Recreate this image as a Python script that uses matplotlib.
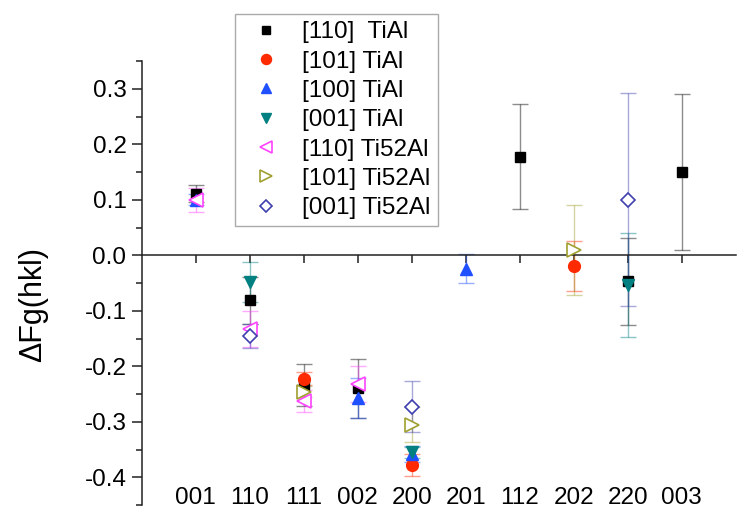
import numpy as np
import matplotlib
matplotlib.use("Agg")
import matplotlib.pyplot as plt
from matplotlib.lines import Line2D

plt.rcParams['font.family'] = ['Liberation Sans', 'DejaVu Sans']

nan = np.nan
categories = ['001', '110', '111', '002', '200', '201', '112', '202', '220', '003']

labels = ['[110]  TiAl', '[101] TiAl', '[100] TiAl', '[001] TiAl',
          '[110] Ti52Al', '[101] Ti52Al', '[001] Ti52Al']

# values / errors per category (nan = no point)
v110_tial = [0.111, -0.081, -0.233, -0.240, nan, nan, 0.178, nan, -0.047, 0.150]
e110_tial = [0.015, 0.042, 0.038, 0.053, nan, nan, 0.094, nan, 0.078, 0.141]
v101_tial = [nan, nan, -0.222, nan, -0.378, nan, nan, -0.019, nan, nan]
e101_tial = [nan, nan, 0.012, nan, 0.020, nan, nan, 0.045, nan, nan]
v100_tial = [0.100, nan, nan, -0.257, -0.358, -0.024, nan, nan, nan, nan]
e100_tial = [0.010, nan, nan, 0.036, 0.015, 0.026, nan, nan, nan, nan]
v001_tial = [nan, -0.048, nan, nan, -0.355, nan, nan, nan, -0.053, nan]
e001_tial = [nan, 0.036, nan, nan, 0.010, nan, nan, nan, 0.094, nan]
v110_ti52 = [0.100, -0.133, -0.262, -0.232, nan, nan, nan, nan, nan, nan]
e110_ti52 = [0.022, 0.032, 0.020, 0.033, nan, nan, nan, nan, nan, nan]
v101_ti52 = [nan, nan, -0.246, nan, -0.305, nan, nan, 0.010, nan, nan]
e101_ti52 = [nan, nan, 0.010, nan, 0.032, nan, nan, 0.081, nan, nan]
v001_ti52 = [nan, -0.145, nan, nan, -0.273, nan, nan, nan, 0.100, nan]
e001_ti52 = [nan, 0.022, nan, nan, 0.046, nan, nan, nan, 0.192, nan]

series = [
    (v110_tial, e110_tial, 's', '#000000', True, 7.5),
    (v101_tial, e101_tial, 'o', '#FF2A00', True, 8.5),
    (v100_tial, e100_tial, '^', '#1F4FFF', True, 9),
    (v001_tial, e001_tial, 'v', '#008080', True, 9),
    (v110_ti52, e110_ti52, '<', '#FF44FF', False, 9.5),
    (v101_ti52, e101_ti52, '>', '#A0A030', False, 9.5),
    (v001_ti52, e001_ti52, 'D', '#3F3FAF', False, 7.5),
]

fig = plt.figure(figsize=(7.37, 5.14), dpi=100)
ax = fig.add_axes([0.1923, 0.0175, 0.806, 0.8635])

x = np.arange(1, len(categories) + 1)
handles = []
for (vals, errs, mk, col, filled, ms), lab in zip(series, labels):
    vals = np.array(vals, dtype=float)
    errs = np.array(errs, dtype=float)
    face = col if filled else 'white'
    ax.errorbar(x, vals, yerr=errs, fmt='none', ecolor=col, alpha=0.45,
                elinewidth=1, capsize=6, capthick=1, zorder=2)
    ax.plot(x, vals, linestyle='none', marker=mk, markersize=ms,
            markerfacecolor=face, markeredgecolor=col,
            markeredgewidth=1 if filled else 1.2, zorder=3)
    handles.append(Line2D([], [], linestyle='none', marker=mk,
                          markersize=ms * 0.85, markerfacecolor=face,
                          markeredgecolor=col,
                          markeredgewidth=1 if filled else 1.2, label=lab))

ax.set_xlim(0, 11)
ax.set_ylim(-0.45, 0.35)

ax.spines['top'].set_visible(False)
ax.spines['right'].set_visible(False)
ax.spines['bottom'].set_position(('data', 0))
for sp in ('left', 'bottom'):
    ax.spines[sp].set_linewidth(1.1)
    ax.spines[sp].set_color('#222222')

ax.set_xticks(x)
ax.set_xticklabels([])
ax.tick_params(axis='x', direction='out', length=6, width=1.1, color='#222222')
for xi, c in zip(x, categories):
    ax.text(xi, -0.438, c, ha='center', va='center', fontsize=17.5)

yt = np.arange(-0.4, 0.31, 0.1)
ax.set_yticks(yt)
ax.set_yticklabels(['%.1f' % t if abs(t) > 1e-9 else '0.0' for t in yt])
ax.set_yticks(np.arange(-0.45, 0.351, 0.05), minor=True)
ax.tick_params(axis='y', which='major', direction='out', length=7, width=1.1,
               labelsize=17.5, pad=4, color='#222222')
ax.tick_params(axis='y', which='minor', direction='out', length=4, width=1.1,
               color='#222222')

fig.text(33 / 737, 1 - 304 / 514, 'ΔFg(hkl)', rotation=90, ha='center',
         va='center', fontsize=22)

leg = ax.legend(handles=handles, loc='upper left',
                bbox_to_anchor=(235 / 737, 1 - 14 / 514),
                bbox_transform=fig.transFigure, borderaxespad=0,
                fontsize=17.5, frameon=True, fancybox=False, framealpha=1,
                edgecolor='#aaaaaa', labelspacing=0.3, handletextpad=0.52,
                borderpad=0.3, handlelength=1.95)
leg.get_frame().set_linewidth(1)

fig.savefig('out.png', dpi=100)
